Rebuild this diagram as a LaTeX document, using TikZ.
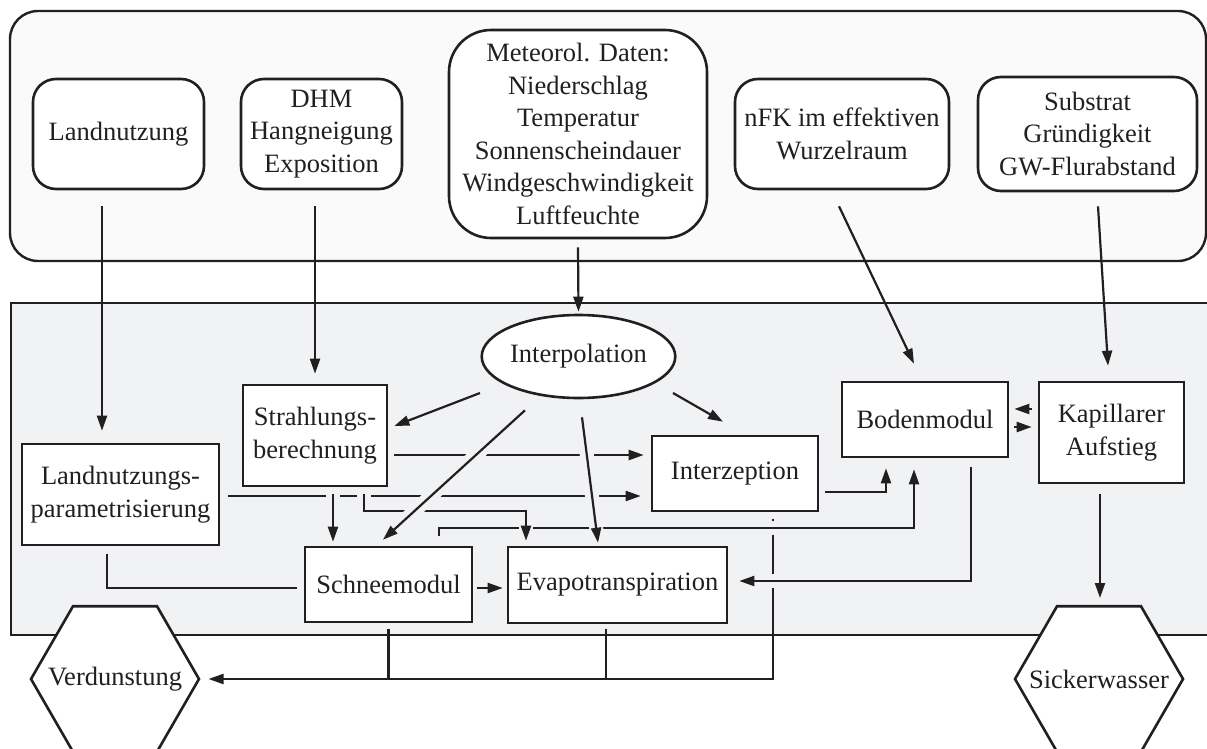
\documentclass[tikz,border=0pt]{standalone}
\usepackage{fontspec}
\setmainfont{Liberation Serif}
\usetikzlibrary{arrows.meta,shapes.geometric}

\definecolor{linecol}{HTML}{231F20}
\definecolor{topfill}{HTML}{FAFAFA}
\definecolor{modfill}{HTML}{F1F2F4}

\begin{document}
\begin{tikzpicture}[%
    x=1pt,
    y=-1pt,
    color=linecol,
    line width=2.2pt,
    >={Triangle[length=15pt,width=10pt]},
    font=\fontsize{26.5pt}{32.5pt}\selectfont,
    source/.style={%
      draw,
      fill=white,
      rounded corners=23pt,
      line width=2.6pt,
      inner sep=0pt,
      align=center
    },
    modul/.style={%
      draw,
      fill=white,
      line width=2.6pt,
      inner sep=0pt,
      align=center
    },
    outlet/.style={%
      draw,
      fill=white,
      regular polygon,
      regular polygon sides=6,
      minimum size=168pt,
      inner sep=0pt,
      line width=2.6pt,
      label={center:#1}
    },
    link/.style={->},
    over/.style={preaction={draw=modfill,line width=14pt,-}}
  ]
    \useasboundingbox (0,0) rectangle (1207,749);

    % frames
    \draw[fill=topfill,rounded corners=28pt,line width=2.4pt] (10,11) rectangle (1206,261);
    \draw[fill=modfill,line width=2.4pt] (11,303) rectangle (1230,635);

    % input data
    \node[source] (lnz) at (118.5,134) [minimum width=171pt,minimum height=110pt] {Landnutzung};
    \node[source] (dhm) at (321.5,134) [minimum width=161pt,minimum height=110pt] {DHM\\Hangneigung\\Exposition};
    \node[source,rounded corners=42pt] (met) at (578,134) [minimum width=258pt,minimum height=208pt]
      {Meteorol. Daten:\\Niederschlag\\Temperatur\\Sonnenscheindauer\\Windgeschwindigkeit\\Luftfeuchte};
    \node[source] (nfk) at (842,134)    [minimum width=214pt,minimum height=110pt] {nFK im effektiven\\Wurzelraum};
    \node[source] (sub) at (1087.5,134) [minimum width=219pt,minimum height=114pt] {Substrat\\Gründigkeit\\GW-Flurabstand};

    % model
    \node[modul,ellipse] (ipo) at (578.5,356.5) [minimum width=193pt,minimum height=83pt] {Interpolation};
    \node[modul] (lnp) at (120.5,494.5) [minimum width=197pt,minimum height=101pt] {Landnutzungs-\\parametrisierung};
    \node[modul] (str) at (315,435.5)   [minimum width=144pt,minimum height=101pt] {Strahlungs-\\berechnung};
    \node[modul] (int) at (735,473.5)   [minimum width=166pt,minimum height=75pt]  {Interzeption};
    \node[modul] (bod) at (925,419.5)   [minimum width=166pt,minimum height=75pt]  {Bodenmodul};
    \node[modul] (kap) at (1111.5,432.5) [minimum width=145pt,minimum height=101pt] {Kapillarer\\Aufstieg};
    \node[modul] (sch) at (388.5,584.5) [minimum width=167pt,minimum height=75pt]  {Schneemodul};
    \node[modul] (eva) at (617.5,585)   [minimum width=219pt,minimum height=76pt]  {Evapotranspiration};

    % output
    \node[outlet=Verdunstung]  (ver) at (115,679)  {};
    \node[outlet=Sickerwasser] (sic) at (1099,679) {};

    % inputs into the model
    \draw[link] ([xshift=-16.5pt,yshift=-16pt]lnz.south) -- ([xshift=-18.5pt,yshift=12pt]lnp.north);
    \draw[link] ([xshift=-6.5pt,yshift=-16pt]dhm.south)  -- ([yshift=10pt]str.north);
    \draw[link] ([yshift=-8pt]met.south)                 -- ([yshift=2pt]ipo.north);
    \draw[link] ([xshift=-3pt,yshift=-16pt]nfk.south)    -- ([xshift=-11pt,yshift=17pt]bod.north);
    \draw[link] ([xshift=10.5pt,yshift=-14pt]sub.south)  -- ([xshift=-3.5pt,yshift=15pt]kap.north);

    \draw[link] ([xshift=-98.5pt,yshift=-36.5pt]ipo.center) -- ([xshift=6pt,yshift=9.5pt]str.east);
    \draw[link] ([xshift=94.5pt,yshift=-36.5pt]ipo.center)  -- ([xshift=-12pt,yshift=13pt]int.north);
    \draw[link] ([xshift=6pt,yshift=-19.5pt]str.east)       -- ([xshift=-7pt,yshift=18.5pt]int.west);
    \draw[link] ([xshift=8pt,yshift=-1.5pt]lnp.east)        -- ([xshift=-10pt,yshift=-22.5pt]int.west);
    \draw ([xshift=-13.5pt,yshift=-8pt]lnp.south) |- ([xshift=-7pt,yshift=-3.5pt]sch.west);
    \draw[link] ([xshift=4pt,yshift=-3.5pt]sch.east)        -- ([xshift=-4pt,yshift=-3pt]eva.west);
    \draw[link] ([xshift=6pt,yshift=-18.5pt]int.east)       -| ([xshift=-39pt,yshift=-10pt]bod.south);
    \draw[link] ([xshift=-6pt,yshift=23.5pt]kap.west)       -- ([xshift=5pt,yshift=10.5pt]bod.east);
    \draw[link] ([xshift=5pt,yshift=-7.5pt]bod.east)        -- ([xshift=-6pt,yshift=5.5pt]kap.west);
    \draw[link] ([xshift=-11.5pt,yshift=-10pt]kap.south)    -- ([xshift=1pt,yshift=81pt]sic.center);

    % outflow to Verdunstung
    \draw[link] ([xshift=38pt,yshift=-7pt]int.south) |- ([xshift=8pt]ver.east);
    \draw ([yshift=-6pt]sch.south) -- (sch.south |- ver.east);
    \draw ([xshift=-11.5pt,yshift=-5pt]eva.south) coordinate (ej) -- (ej |- ver.east);

    % crossing lines
    \draw[link,over] ([xshift=18pt,yshift=-7pt]str.south) -- ([xshift=-55.5pt,yshift=4pt]sch.north);
    \draw[link,over] ([xshift=46pt,yshift=-9pt]bod.south) |- ([xshift=11pt,yshift=4pt]eva.east);
    \draw[link,over] ([xshift=50.5pt,yshift=10pt]sch.north) -- ++(0,-8) -| ([xshift=-11pt,yshift=-11pt]bod.south);
    \draw[link,over] ([xshift=49pt,yshift=-7pt]str.south) -- ++(0,17) -| ([xshift=-91.5pt,yshift=5pt]eva.north);
    \draw[link,over] ([xshift=-53.5pt,yshift=-11pt]ipo.south) -- ([xshift=-5.5pt,yshift=6pt]sch.north);
    \draw[link,over] ([xshift=3.5pt,yshift=-18pt]ipo.south)   -- ([xshift=-19.5pt,yshift=3pt]eva.north);
\end{tikzpicture}
\end{document}
